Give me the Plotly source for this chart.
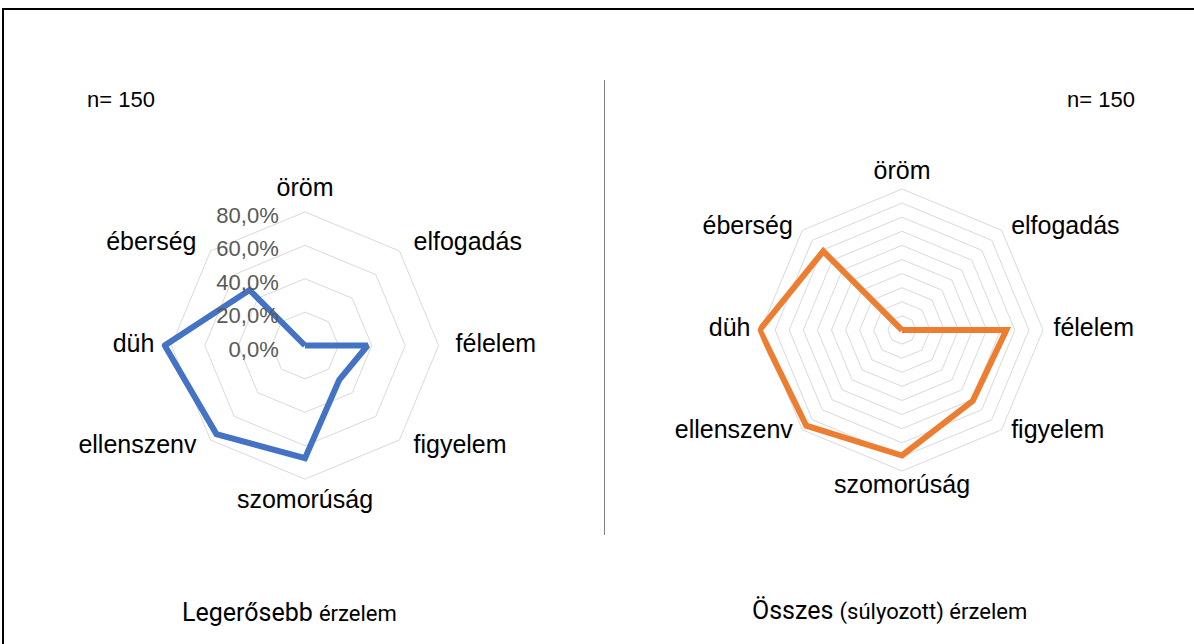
import plotly.graph_objects as go

categories = ["öröm", "elfogadás", "félelem", "figyelem", "szomorúság", "ellenszenv", "düh", "éberség"]
strongest = [0.0, 0.0, 0.375, 0.29, 0.675, 0.75, 0.84, 0.47]
weighted = [0.0, 0.0, 7.4, 7.1, 8.9, 9.6, 10.1, 7.9]
left_ticks = [0.0, 0.2, 0.4, 0.6, 0.8]
left_ticktext = ["0,0%", "20,0%", "40,0%", "60,0%", "80,0%"]
right_ticks = [1, 2, 3, 4, 5, 6, 7, 8, 9, 10]
left_title = "Legerősebb <span style='font-size:22px'>érzelem</span>"
right_title = "Összes <span style='font-size:22px'>(súlyozott) érzelem</span>"
n_label = "n= 150"

W, H = 1194, 644
label_positions = ["top center", "middle right", "middle right", "middle right",
                   "bottom center", "middle left", "middle left", "middle left"]

left_max = 0.86
right_max = 10.25


def close(v):
    return list(v) + [v[0]]


def padded(labels, positions):
    out = []
    for t, p in zip(labels, positions):
        if p.endswith("right"):
            out.append("\u00a0" + t)
        elif p.endswith("left"):
            out.append(t + "\u00a0")
        else:
            out.append(t)
    return out


label_text = padded(categories, label_positions)
lblfont = dict(family="Liberation Sans, Arial", size=25, color="#000000")

fig = go.Figure()
fig.add_trace(go.Scatterpolar(r=close(strongest), theta=close(categories), mode="lines",
                              line=dict(color="#4472C4", width=6), subplot="polar", showlegend=False,
                              hoverinfo="skip"))
fig.add_trace(go.Scatterpolar(r=close(weighted), theta=close(categories), mode="lines",
                              line=dict(color="#ED7D31", width=6), subplot="polar2", showlegend=False,
                              hoverinfo="skip"))
# category labels placed beside the outer edge, as Excel does
fig.add_trace(go.Scatterpolar(r=[left_max] * len(categories), theta=categories, mode="text",
                              text=label_text, textposition=label_positions, textfont=lblfont,
                              cliponaxis=False, subplot="polar", showlegend=False, hoverinfo="skip"))
fig.add_trace(go.Scatterpolar(r=[right_max] * len(categories), theta=categories, mode="text",
                              text=label_text, textposition=label_positions, textfont=lblfont,
                              cliponaxis=False, subplot="polar2", showlegend=False, hoverinfo="skip"))


def dom(cx, cy, R):
    return dict(x=[(cx - R) / W, (cx + R) / W], y=[(H - cy - R) / H, (H - cy + R) / H])


common_ang = dict(direction="clockwise", rotation=90, showgrid=False, showline=False,
                  showticklabels=False, ticks="",
                  categoryorder="array", categoryarray=categories)

left_R = left_max * 167
right_R = right_max * 14.1

fig.update_layout(
    width=W, height=H, margin=dict(l=0, r=0, t=0, b=0),
    paper_bgcolor="white", plot_bgcolor="white",
    polar=dict(domain=dom(305, 345.5, left_R), bgcolor="white", gridshape="linear",
               angularaxis=common_ang,
               radialaxis=dict(range=[0, left_max], tickvals=left_ticks, ticktext=left_ticktext,
                               angle=90, side="counterclockwise", showline=False,
                               ticks="outside", ticklen=6, tickcolor="rgba(0,0,0,0)",
                               gridcolor="#D9D9D9", gridwidth=1,
                               tickfont=dict(family="Liberation Sans, Arial", size=22, color="#595959"))),
    polar2=dict(domain=dom(902, 330, right_R), bgcolor="white", gridshape="linear",
                angularaxis=common_ang,
                radialaxis=dict(range=[0, right_max], tickvals=right_ticks, showticklabels=False,
                                angle=90, showline=False, ticks="",
                                gridcolor="#D9D9D9", gridwidth=1)),
    shapes=[
        dict(type="rect", xref="paper", yref="paper", x0=3 / W, x1=1.02, y0=-0.05, y1=1 - 9 / H,
             line=dict(color="#000000", width=2), fillcolor="rgba(0,0,0,0)"),
        dict(type="line", xref="paper", yref="paper", x0=604.5 / W, x1=604.5 / W,
             y0=1 - 535 / H, y1=1 - 80 / H, line=dict(color="#808080", width=1)),
    ],
    annotations=[
        dict(text=n_label, x=85 / W, y=1 - 100 / H, xref="paper", yref="paper", xanchor="left",
             yanchor="middle", showarrow=False, font=dict(family="Liberation Sans, Arial", size=22, color="#000")),
        dict(text=n_label, x=1137 / W, y=1 - 100 / H, xref="paper", yref="paper", xanchor="right",
             yanchor="middle", showarrow=False, font=dict(family="Liberation Sans, Arial", size=22, color="#000")),
        dict(text=left_title, x=289 / W, y=1 - 612 / H, xref="paper", yref="paper", xanchor="center",
             yanchor="middle", showarrow=False,
             font=dict(family="Roboto, Arial", size=25, color="#000")),
        dict(text=right_title, x=889 / W, y=1 - 610 / H, xref="paper", yref="paper", xanchor="center",
             yanchor="middle", showarrow=False,
             font=dict(family="Roboto, Arial", size=25, color="#000")),
    ],
)

fig.write_html("out.html", config={"displayModeBar": False},
               post_script="document.body.style.margin='0';")
